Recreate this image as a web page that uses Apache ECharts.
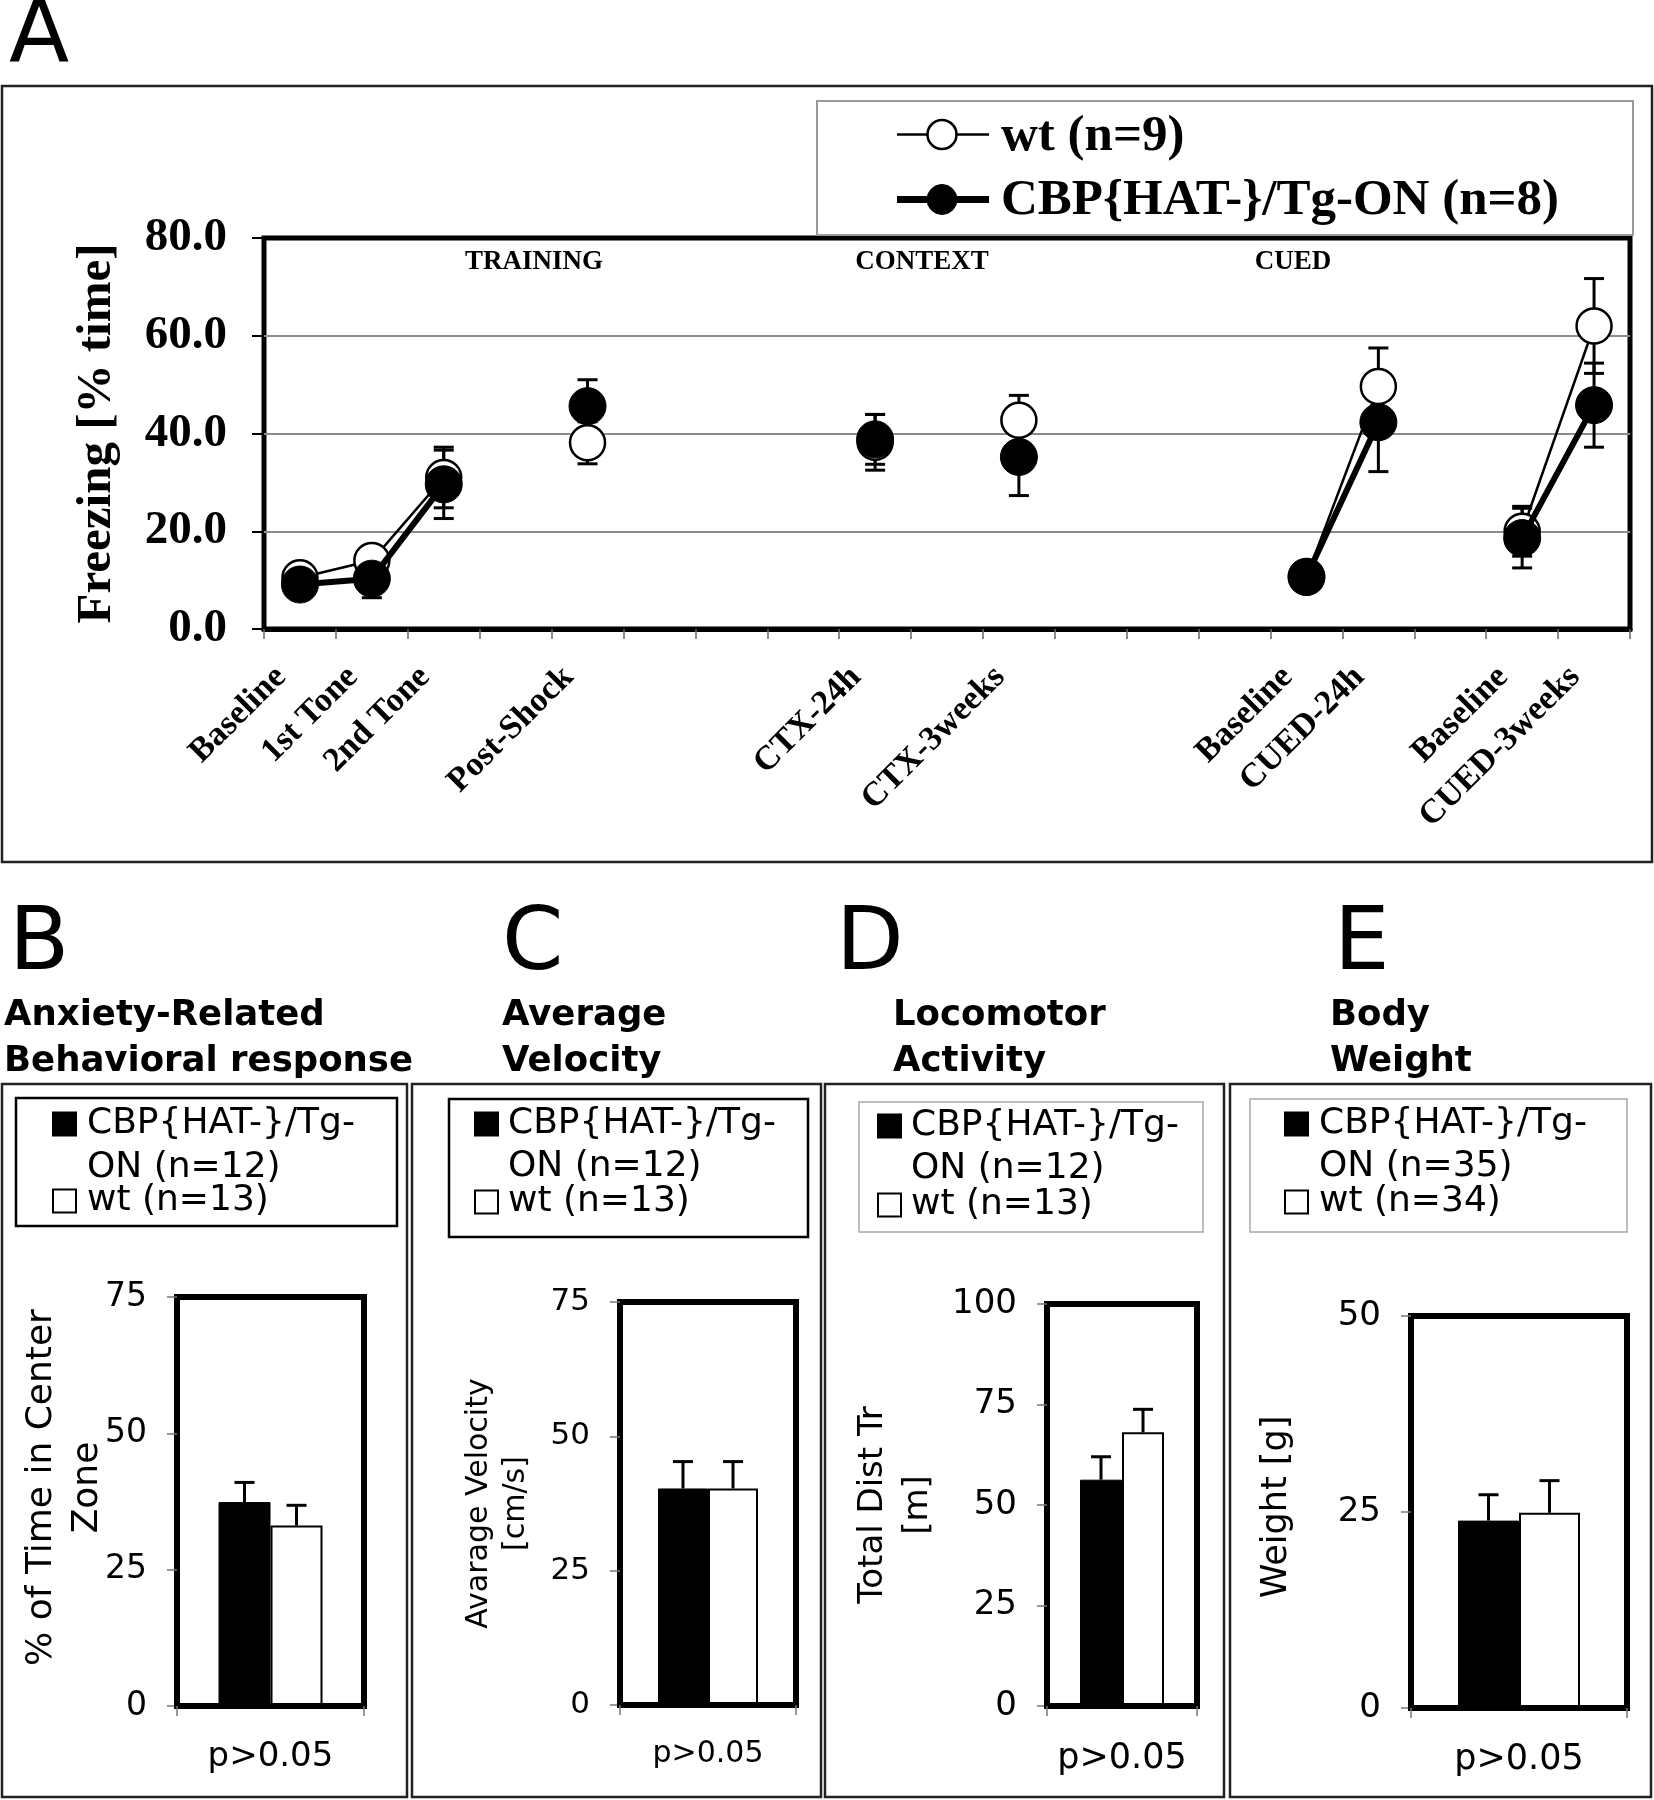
<!DOCTYPE html>
<html><head><meta charset="utf-8">
<script src="https://cdn.jsdelivr.net/npm/echarts@6/dist/echarts.min.js"></script>
<style>html,body{margin:0;padding:0;background:#fff}#c{width:1654px;height:1800px}</style>
</head><body><div id="c"></div>
<script>
// ---------------- DATA ----------------
const categoriesA = ['Baseline','1st Tone','2nd Tone','','Post-Shock','','','','CTX-24h','','CTX-3weeks','','','','Baseline','CUED-24h','','Baseline','CUED-3weeks'];
const wtFreezing     = [10.5,14.0,31.0,null,38.1,null,null,null,38.2,null,42.7,null,null,null,10.6,49.6,null,20.0,62.0];
const wtFreezingErr  = [1.5, 2.8, 6.2, null,4.3, null,null,null,5.7, null,5.1, null,null,null,1.5, 7.9, null,5.1, 9.7];
const cbpFreezing    = [9.1, 10.3,29.6,null,45.6,null,null,null,38.8,null,35.2,null,null,null,10.7,42.3,null,18.6,45.8];
const cbpFreezingErr = [1.5, 3.9, 7.0, null,5.4, null,null,null,5.1, null,7.9, null,null,null,1.5, 10.1,null,6.1, 8.6];
const freezingMax = 80, freezingStep = 20;
const phaseLabels = ['TRAINING','CONTEXT','CUED'];
const legendA = ['wt (n=9)','CBP{HAT-}/Tg-ON (n=8)'];

const panelLetters = ['B','C','D','E'];
const barTitles = [['Anxiety-Related','Behavioral response'],['Average','Velocity'],['Locomotor','Activity'],['Body','Weight']];
const barYNames = ['% of Time in Center\nZone','Avarage Velocity\n[cm/s]','Total Dist Tr\n[m]','Weight [g]'];
const barYMax  = [75,75,100,50];
const barYStep = [25,25,25,25];
const cbpBar    = [37.4,40.3,56.3,23.9];
const cbpBarErr = [3.6,5.0,5.7,3.3];
const wtBar     = [33.1,40.3,68.1,24.9];
const wtBarErr  = [3.7,5.0,5.7,4.1];
const cbpN = [12,12,12,35];
const wtN  = [13,13,13,34];
const pText = ['p>0.05','p>0.05','p>0.05','p>0.05'];

// ---------------- LAYOUT / STYLE ----------------
const SERIF = '"Liberation Serif","Times New Roman",serif';
const SANS = '"DejaVu Sans",Verdana,sans-serif';
const gridA = {left:264, top:238, width:1366, height:391};
const barGrids = [
  {left:177, top:1297, width:187, height:409, bw:52, tick:33, nameSize:36, nameLH:46, nameGap:66, namePad:[0,0,0,28], pSize:34, pGap:34},
  {left:620, top:1302, width:176, height:403, bw:50, tick:31, nameSize:30, nameLH:37, nameGap:85, namePad:0, pSize:30, pGap:34},
  {left:1047,top:1304, width:150, height:402, bw:42, tick:34, nameSize:34, nameLH:45, nameGap:106,namePad:0, pSize:35, pGap:35},
  {left:1411,top:1316, width:216, height:392, bw:61, tick:34, nameSize:35, nameLH:40, nameGap:114,namePad:[0,0,0,10], pSize:35, pGap:34}
];
const panelBoxes = [[2,407],[412,821],[825,1224],[1230,1651]];
const legendBoxes = [
  {x:16, y:1098, w:381, h:128, stroke:'#000', sq:52, tx:87, l1:1124, l2:1168, l3:1201},
  {x:449,y:1099, w:359, h:138, stroke:'#000', sq:474, tx:508, l1:1124, l2:1167, l3:1202},
  {x:859,y:1102, w:344, h:130, stroke:'#a8a8a8', sq:877, tx:911, l1:1126, l2:1169, l3:1205},
  {x:1250,y:1099,w:377, h:133, stroke:'#a8a8a8', sq:1284, tx:1319, l1:1124, l2:1167, l3:1202}
];
const letterX = [9,502,836,1334];
const titleX = [4,502,893,1330];
const phaseX = [534,922,1293];

function txt(x,y,text,font,align,valign,extra){
  return Object.assign({type:'text', x:x, y:y, silent:true,
    style:{text:text, font:font, fill:'#000', align:align||'left', verticalAlign:valign||'middle'}}, extra||{});
}

const graphics = [];
// Panel A frame and letter
graphics.push({type:'rect', silent:true, shape:{x:2,y:86,width:1650,height:776}, style:{fill:null, stroke:'#222', lineWidth:2.5}});
graphics.push(txt(9,38,'A','88px '+SANS));
// Legend A
graphics.push({type:'rect', silent:true, shape:{x:817,y:101,width:816,height:134}, style:{fill:'#fff', stroke:'#9a9a9a', lineWidth:2}});
graphics.push({type:'line', silent:true, shape:{x1:897,y1:134.5,x2:989,y2:134.5}, style:{stroke:'#000', lineWidth:2.5}});
graphics.push({type:'circle', silent:true, shape:{cx:942,cy:134.5,r:14.5}, style:{fill:'#fff', stroke:'#000', lineWidth:2.5}});
graphics.push(txt(1001,137,legendA[0],'bold 51px '+SERIF));
graphics.push({type:'line', silent:true, shape:{x1:897,y1:199.5,x2:989,y2:199.5}, style:{stroke:'#000', lineWidth:7}});
graphics.push({type:'circle', silent:true, shape:{cx:942,cy:199.5,r:15}, style:{fill:'#000', stroke:'#000', lineWidth:1}});
graphics.push(txt(1001,201,legendA[1],'bold 51px '+SERIF));
// phase labels
phaseLabels.forEach((p,i)=>graphics.push(txt(phaseX[i],262,p,'bold 27px '+SERIF,'center')));

// Bottom panels
panelLetters.forEach((L,i)=>{
  graphics.push(txt(letterX[i],946,L,'88px '+SANS));
  graphics.push(txt(titleX[i],1016,barTitles[i][0],'bold 35.5px '+SANS));
  graphics.push(txt(titleX[i],1062,barTitles[i][1],'bold 35.5px '+SANS));
  const b = panelBoxes[i];
  graphics.push({type:'rect', silent:true, shape:{x:b[0],y:1084,width:b[1]-b[0],height:713}, style:{fill:null, stroke:'#222', lineWidth:2.5}});
  const lg = legendBoxes[i];
  graphics.push({type:'rect', silent:true, shape:{x:lg.x,y:lg.y,width:lg.w,height:lg.h}, style:{fill:'#fff', stroke:lg.stroke, lineWidth:lg.stroke==='#000'?2.5:1.5}});
  graphics.push({type:'rect', silent:true, shape:{x:lg.sq,y:lg.l1-12.5,width:25,height:25}, style:{fill:'#000'}});
  graphics.push(txt(lg.tx,lg.l1,'CBP{HAT-}/Tg-','36px '+SANS));
  graphics.push(txt(lg.tx,lg.l2,'ON (n='+cbpN[i]+')','36px '+SANS));
  graphics.push({type:'rect', silent:true, shape:{x:lg.sq+1,y:lg.l3-11.5,width:23,height:23}, style:{fill:'#fff', stroke:'#000', lineWidth:2}});
  graphics.push(txt(lg.tx,lg.l3,'wt (n='+wtN[i]+')','36px '+SANS));
});

// ---------------- CHART ----------------
function errRenderA(params, api){
  const x = api.value(0), v = api.value(1), e = api.value(2);
  const t = api.coord([x, v+e]), b = api.coord([x, v-e]);
  const hw = 10, st = {stroke:'#000', lineWidth:3};
  return {type:'group', children:[
    {type:'line', shape:{x1:t[0],y1:t[1],x2:b[0],y2:b[1]}, style:st},
    {type:'line', shape:{x1:t[0]-hw,y1:t[1],x2:t[0]+hw,y2:t[1]}, style:st},
    {type:'line', shape:{x1:b[0]-hw,y1:b[1],x2:b[0]+hw,y2:b[1]}, style:st}
  ]};
}
function errRenderBar(bw){
  return function(params, api){
    const v = api.value(1), e = api.value(2), side = api.value(3);
    const base = api.coord([0, v]), t = api.coord([0, v+e]);
    const x = base[0] + side*bw/2, hw = 10, st = {stroke:'#000', lineWidth:3};
    return {type:'group', children:[
      {type:'line', shape:{x1:x,y1:base[1],x2:x,y2:t[1]}, style:st},
      {type:'line', shape:{x1:x-hw,y1:t[1],x2:x+hw,y2:t[1]}, style:st}
    ]};
  };
}
const errData = (vals, errs) => vals.map((v,i)=> v==null ? null : [i, v, errs[i]]).filter(Boolean);

const grids = [Object.assign({show:true, borderColor:'#000', borderWidth:5, backgroundColor:'transparent', containLabel:false, outerBoundsMode:'none'}, gridA)];
const xAxes = [{
  type:'category', gridIndex:0, data:categoriesA, boundaryGap:true,
  axisLine:{show:true, lineStyle:{color:'#000', width:5}},
  axisTick:{show:true, interval:0, length:10, lineStyle:{color:'#666', width:1.5}},
  axisLabel:{interval:0, rotate:45, margin:48, verticalAlign:'bottom', padding:[0,10,0,0], color:'#000', fontFamily:SERIF, fontWeight:'bold', fontSize:34},
  splitLine:{show:false}
}];
const yAxes = [{
  type:'value', gridIndex:0, min:0, max:freezingMax, interval:freezingStep,
  axisLine:{show:false},
  axisTick:{show:true, length:12, lineStyle:{color:'#000', width:2}},
  axisLabel:{margin:37, color:'#000', fontFamily:SERIF, fontWeight:'bold', fontSize:47, formatter:v=>v.toFixed(1)},
  splitLine:{show:true, showMinLine:false, showMaxLine:false, lineStyle:{color:'#8c8c8c', width:2}},
  name:'Freezing [% time]', nameLocation:'middle', nameRotate:90, nameGap:142, nameMoveOverlap:false,
  nameTextStyle:{color:'#000', fontFamily:SERIF, fontWeight:'bold', fontSize:49}
}];
const series = [
  {type:'custom', xAxisIndex:0, yAxisIndex:0, z:1, silent:true, renderItem:errRenderA, data:errData(wtFreezing, wtFreezingErr), encode:{x:0,y:1}},
  {type:'custom', xAxisIndex:0, yAxisIndex:0, z:1, silent:true, renderItem:errRenderA, data:errData(cbpFreezing, cbpFreezingErr), encode:{x:0,y:1}},
  {type:'line', name:legendA[0], xAxisIndex:0, yAxisIndex:0, z:3, data:wtFreezing, connectNulls:false,
   symbol:'circle', symbolSize:35, showSymbol:true, showAllSymbol:true,
   lineStyle:{color:'#000', width:2.5}, itemStyle:{color:'#fff', borderColor:'#000', borderWidth:2.5}},
  {type:'line', name:legendA[1], xAxisIndex:0, yAxisIndex:0, z:4, data:cbpFreezing, connectNulls:false,
   symbol:'circle', symbolSize:37, showSymbol:true, showAllSymbol:true,
   lineStyle:{color:'#000', width:6}, itemStyle:{color:'#000', borderColor:'#000', borderWidth:1}}
];

barGrids.forEach((g,i)=>{
  const gi = i+1;
  grids.push({show:true, borderColor:'#000', borderWidth:6, backgroundColor:'transparent', containLabel:false, outerBoundsMode:'none',
    left:g.left, top:g.top, width:g.width, height:g.height});
  xAxes.push({type:'category', gridIndex:gi, data:[''], z:10,
    axisLine:{show:true, lineStyle:{color:'#000', width:6}},
    axisTick:{show:true, length:10, lineStyle:{color:'#777', width:1.5}},
    axisLabel:{show:false},
    name:pText[i], nameLocation:'middle', nameGap:g.pGap, nameMoveOverlap:false,
    nameTextStyle:{color:'#000', fontFamily:SANS, fontSize:g.pSize}});
  yAxes.push({type:'value', gridIndex:gi, min:0, max:barYMax[i], interval:barYStep[i],
    axisLine:{show:false},
    axisTick:{show:true, length:10, lineStyle:{color:'#777', width:1.5}},
    axisLabel:{margin:30, color:'#000', fontFamily:SANS, fontSize:g.tick},
    splitLine:{show:false},
    name:barYNames[i], nameLocation:'middle', nameRotate:90, nameGap:g.nameGap, nameMoveOverlap:false,
    nameTextStyle:{color:'#000', fontFamily:SANS, fontSize:g.nameSize, lineHeight:g.nameLH, padding:g.namePad}});
  series.push({type:'bar', xAxisIndex:gi, yAxisIndex:gi, data:[cbpBar[i]], barWidth:g.bw, barGap:'0%', z:2,
    itemStyle:{color:'#000', borderColor:'#000', borderWidth:1}});
  series.push({type:'bar', xAxisIndex:gi, yAxisIndex:gi, data:[wtBar[i]], barWidth:g.bw, barGap:'0%', z:2,
    itemStyle:{color:'#fff', borderColor:'#000', borderWidth:2}});
  series.push({type:'custom', xAxisIndex:gi, yAxisIndex:gi, z:3, silent:true, renderItem:errRenderBar(g.bw),
    data:[[0, cbpBar[i], cbpBarErr[i], -1],[0, wtBar[i], wtBarErr[i], 1]], encode:{x:0,y:1}});
});

const chart = echarts.init(document.getElementById('c'), null, {renderer:'canvas', width:1654, height:1800});
chart.setOption({
  animation:false,
  backgroundColor:'#fff',
  grid:grids, xAxis:xAxes, yAxis:yAxes, series:series,
  graphic:{elements:graphics}
});
</script>
</body></html>
